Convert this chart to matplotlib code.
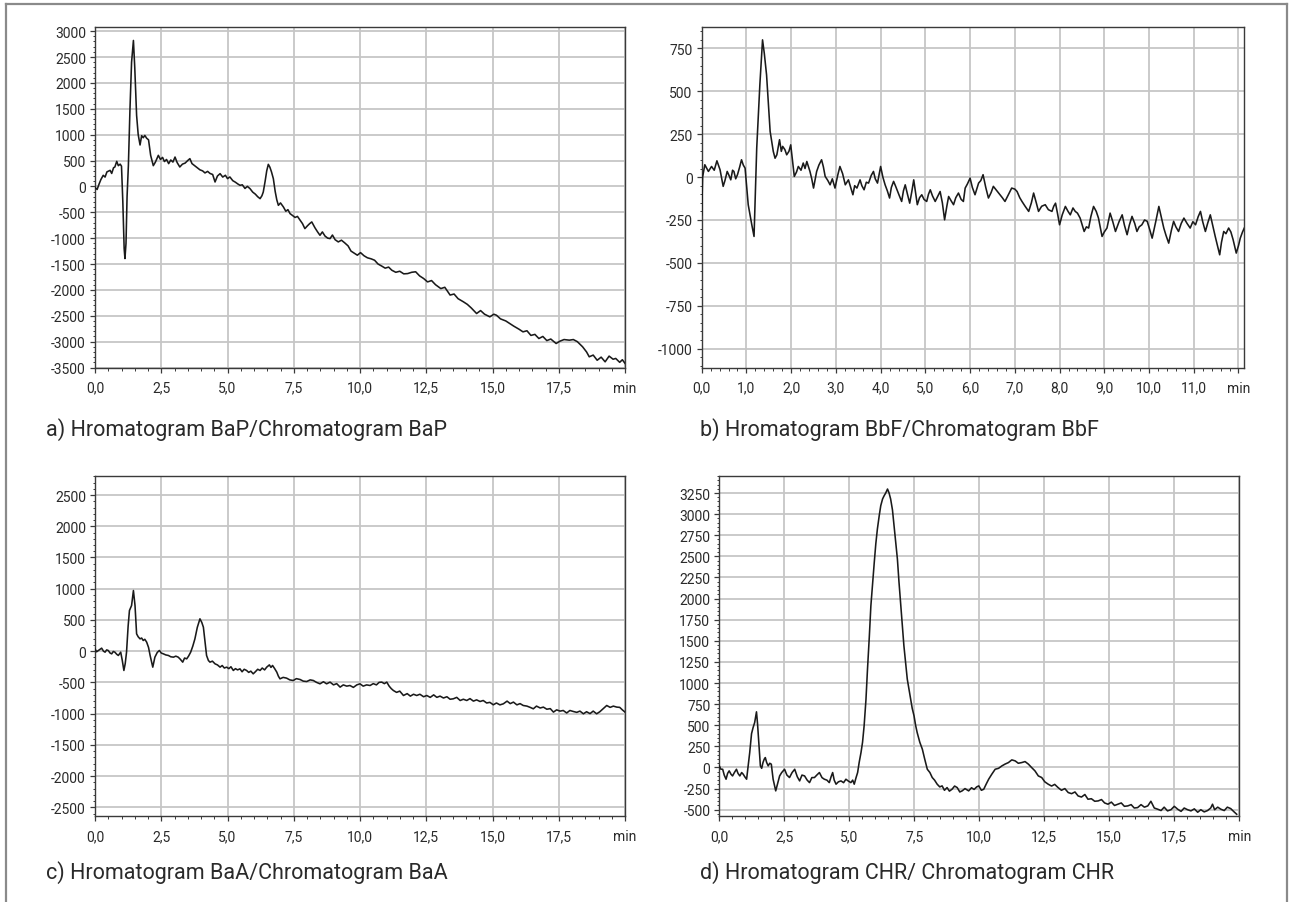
import numpy as np
import matplotlib
matplotlib.use("Agg")
import matplotlib.pyplot as plt
import matplotlib.ticker as mticker
from matplotlib.lines import Line2D

plt.rcParams['font.family'] = ['Roboto', 'DejaVu Sans']
plt.rcParams['axes.unicode_minus'] = False

# ── Traces: (time [min], signal) ────────────────────────────────────
BAP = [(0.00, -20), (0.08, -60), (0.15, 40), (0.22, 130), (0.31, 214), (0.38, 180), (0.45, 280),
       (0.57, 310), (0.63, 250), (0.70, 360), (0.75, 375), (0.82, 484), (0.88, 400), (0.95, 430),
       (1.00, 390), (1.05, -300), (1.10, -1200), (1.13, -1395), (1.17, -1100), (1.21, -200),
       (1.26, 407), (1.32, 1500), (1.38, 2400), (1.45, 2820), (1.50, 2300), (1.57, 1372),
       (1.63, 1000), (1.70, 800), (1.76, 980), (1.82, 940), (1.88, 985), (1.95, 930), (2.02, 900),
       (2.10, 600), (2.20, 400), (2.28, 470), (2.39, 600), (2.47, 520), (2.55, 560), (2.62, 480),
       (2.70, 520), (2.78, 440), (2.86, 510), (2.94, 470), (3.02, 567), (3.10, 460), (3.20, 375),
       (3.30, 430), (3.40, 450), (3.50, 500), (3.58, 536), (3.66, 440), (3.76, 400), (3.86, 360),
       (3.96, 320), (4.06, 300), (4.15, 260), (4.25, 290), (4.34, 250), (4.44, 230), (4.53, 85),
       (4.62, 200), (4.72, 246), (4.82, 180), (4.92, 215), (5.00, 150), (5.09, 182), (5.20, 110),
       (5.30, 80), (5.38, 50), (5.47, 21), (5.56, 30), (5.66, -40), (5.75, 0), (5.85, -44),
       (5.95, -110), (6.05, -150), (6.14, -200), (6.23, -237), (6.30, -180), (6.35, -108),
       (6.42, 100), (6.48, 300), (6.54, 426), (6.60, 370), (6.66, 280), (6.73, 149), (6.80, -100),
       (6.86, -260), (6.92, -366), (7.00, -320), (7.11, -398), (7.20, -480), (7.28, -450),
       (7.36, -526), (7.45, -560), (7.55, -600), (7.64, -580), (7.74, -655), (7.83, -720),
       (7.92, -816), (8.02, -760), (8.10, -720), (8.18, -687), (8.30, -800), (8.40, -880),
       (8.49, -945), (8.58, -880), (8.68, -960), (8.78, -1000), (8.87, -1009), (8.96, -940),
       (9.06, -1030), (9.18, -1073), (9.30, -1040), (9.42, -1090), (9.55, -1150), (9.66, -1250),
       (9.78, -1290), (9.90, -1330), (10.02, -1280), (10.15, -1340), (10.28, -1380),
       (10.42, -1400), (10.55, -1427), (10.68, -1500), (10.82, -1540), (10.95, -1580),
       (11.08, -1560), (11.20, -1620), (11.35, -1660), (11.50, -1640), (11.65, -1690),
       (11.80, -1685), (11.95, -1660), (12.10, -1650), (12.25, -1730), (12.40, -1780),
       (12.55, -1846), (12.70, -1820), (12.85, -1900), (13.05, -1975), (13.20, -1950),
       (13.40, -2100), (13.55, -2080), (13.70, -2170), (13.90, -2230), (14.05, -2280),
       (14.20, -2350), (14.40, -2457), (14.55, -2400), (14.70, -2470), (14.90, -2521),
       (15.05, -2470), (15.15, -2490), (15.30, -2560), (15.50, -2600), (15.65, -2650),
       (15.80, -2700), (16.00, -2760), (16.15, -2811), (16.30, -2790), (16.45, -2880),
       (16.60, -2860), (16.75, -2940), (16.90, -2900), (17.05, -2980), (17.20, -2950),
       (17.40, -3036), (17.55, -2990), (17.70, -2960), (17.90, -2972), (18.05, -2960),
       (18.20, -3000), (18.40, -3100), (18.55, -3200), (18.65, -3293), (18.80, -3260),
       (18.95, -3360), (19.10, -3300), (19.25, -3390), (19.40, -3280), (19.55, -3340),
       (19.65, -3325), (19.80, -3400), (19.90, -3350), (20.00, -3420)]

BBF = [(0.00, -220), (0.02, 0), (0.07, 72), (0.15, 33), (0.22, 62), (0.28, 40), (0.34, 95),
       (0.41, 43), (0.48, -54), (0.52, -20), (0.57, 33), (0.61, 10), (0.65, -16), (0.69, 40),
       (0.72, 33), (0.76, -10), (0.80, 14), (0.85, 60), (0.89, 101), (0.93, 70), (0.97, 52),
       (1.04, -161), (1.12, -278), (1.17, -346), (1.23, 169), (1.30, 538), (1.36, 800),
       (1.40, 720), (1.45, 596), (1.53, 266), (1.60, 150), (1.64, 110), (1.68, 130), (1.74, 218),
       (1.78, 150), (1.81, 179), (1.86, 160), (1.90, 130), (1.95, 150), (1.99, 188), (2.07, 4),
       (2.12, 30), (2.16, 62), (2.22, 40), (2.27, 82), (2.31, 50), (2.35, 91), (2.42, 33),
       (2.46, -10), (2.50, -64), (2.57, 33), (2.62, 70), (2.68, 101), (2.72, 60), (2.76, 4),
       (2.82, -20), (2.87, -45), (2.92, -10), (2.98, -64), (3.04, 10), (3.09, 62), (3.15, 20),
       (3.21, -45), (3.28, -16), (3.33, -60), (3.38, -103), (3.42, -50), (3.47, -64), (3.54, -16),
       (3.58, -50), (3.63, -74), (3.68, -30), (3.73, -35), (3.79, 10), (3.84, 33), (3.88, -10),
       (3.93, -35), (4.00, 62), (4.05, 0), (4.10, -45), (4.15, -80), (4.20, -122), (4.24, -60),
       (4.29, -25), (4.33, -50), (4.38, -84), (4.42, -110), (4.47, -142), (4.51, -80), (4.55, -45),
       (4.60, -100), (4.65, -152), (4.70, -80), (4.74, -16), (4.78, -90), (4.82, -161),
       (4.87, -120), (4.92, -103), (4.97, -130), (5.03, -142), (5.07, -100), (5.11, -74),
       (5.16, -110), (5.22, -142), (5.28, -110), (5.33, -84), (5.38, -150), (5.43, -249),
       (5.48, -170), (5.52, -113), (5.58, -140), (5.63, -161), (5.68, -120), (5.74, -93),
       (5.80, -130), (5.85, -142), (5.89, -64), (5.94, -40), (6.00, -6), (6.05, -60), (6.11, -103),
       (6.15, -70), (6.19, -35), (6.24, -20), (6.29, 14), (6.35, -60), (6.41, -122), (6.47, -90),
       (6.52, -54), (6.60, -80), (6.67, -103), (6.72, -120), (6.78, -142), (6.86, -100),
       (6.93, -64), (7.00, -70), (7.05, -84), (7.11, -120), (7.16, -142), (7.23, -170),
       (7.31, -200), (7.37, -150), (7.42, -93), (7.48, -150), (7.53, -200), (7.60, -170),
       (7.68, -161), (7.75, -190), (7.83, -200), (7.87, -170), (7.91, -152), (7.96, -220),
       (8.00, -278), (8.06, -220), (8.13, -171), (8.19, -200), (8.24, -220), (8.30, -180),
       (8.35, -200), (8.40, -210), (8.46, -239), (8.55, -317), (8.60, -290), (8.65, -297),
       (8.70, -230), (8.76, -171), (8.82, -200), (8.87, -239), (8.95, -346), (9.00, -320),
       (9.06, -297), (9.13, -210), (9.19, -260), (9.25, -317), (9.33, -260), (9.40, -220),
       (9.45, -280), (9.51, -336), (9.56, -280), (9.62, -229), (9.68, -270), (9.73, -317),
       (9.78, -290), (9.84, -278), (9.90, -250), (9.96, -258), (10.02, -310), (10.07, -356),
       (10.15, -260), (10.22, -171), (10.28, -240), (10.33, -297), (10.38, -340), (10.44, -385),
       (10.50, -310), (10.55, -258), (10.60, -290), (10.66, -317), (10.72, -270), (10.78, -239),
       (10.85, -270), (10.92, -297), (10.98, -260), (11.04, -278), (11.10, -230), (11.15, -200),
       (11.20, -260), (11.26, -317), (11.31, -270), (11.37, -220), (11.43, -290), (11.48, -346),
       (11.53, -400), (11.58, -453), (11.62, -380), (11.67, -317), (11.72, -330), (11.78, -297),
       (11.83, -320), (11.88, -365), (11.95, -443), (12.00, -400), (12.04, -356), (12.09, -320),
       (12.13, -297)]

BAA = [(0.00, 37), (0.06, -10), (0.13, 11), (0.19, 30), (0.25, 48), (0.32, 0), (0.38, -16),
       (0.44, 20), (0.50, 11), (0.57, -30), (0.63, -43), (0.69, -5), (0.75, -16), (0.82, -50),
       (0.88, -69), (0.93, -40), (0.97, -16), (1.03, -150), (1.09, -309), (1.14, -200),
       (1.19, -16), (1.25, 400), (1.30, 651), (1.38, 731), (1.45, 971), (1.51, 731), (1.57, 277),
       (1.63, 230), (1.70, 197), (1.76, 210), (1.82, 171), (1.88, 190), (1.95, 144), (2.02, 60),
       (2.08, -69), (2.18, -256), (2.26, -96), (2.35, -20), (2.43, 11), (2.50, -30), (2.58, -43),
       (2.67, -60), (2.77, -69), (2.86, -90), (2.96, -96), (3.05, -80), (3.14, -96), (3.22, -130),
       (3.31, -176), (3.38, -110), (3.46, -123), (3.53, -80), (3.61, -16), (3.69, 80), (3.77, 197),
       (3.86, 380), (3.96, 518), (4.03, 460), (4.09, 384), (4.15, 150), (4.21, -69), (4.28, -150),
       (4.34, -176), (4.43, -160), (4.53, -203), (4.62, -220), (4.72, -256), (4.80, -230),
       (4.88, -270), (4.97, -256), (5.05, -280), (5.13, -250), (5.22, -309), (5.30, -280),
       (5.38, -300), (5.47, -283), (5.55, -330), (5.63, -290), (5.72, -309), (5.80, -340),
       (5.88, -320), (5.97, -363), (6.05, -330), (6.14, -290), (6.23, -309), (6.31, -270),
       (6.40, -300), (6.48, -256), (6.58, -220), (6.64, -260), (6.70, -229), (6.78, -280),
       (6.86, -336), (6.92, -400), (6.98, -443), (7.10, -420), (7.23, -432), (7.35, -460),
       (7.48, -470), (7.60, -440), (7.74, -454), (7.86, -480), (7.99, -486), (8.12, -460),
       (8.24, -470), (8.36, -500), (8.49, -523), (8.62, -490), (8.74, -523), (8.87, -496),
       (9.00, -540), (9.12, -520), (9.25, -576), (9.37, -540), (9.50, -560), (9.62, -550),
       (9.75, -580), (9.88, -540), (10.00, -523), (10.12, -560), (10.25, -540), (10.38, -550),
       (10.50, -520), (10.62, -540), (10.72, -500), (10.82, -496), (10.92, -520), (11.01, -496),
       (11.10, -560), (11.18, -600), (11.26, -630), (11.38, -660), (11.50, -640), (11.64, -710),
       (11.78, -680), (11.90, -720), (12.02, -690), (12.14, -710), (12.26, -690), (12.40, -730),
       (12.52, -710), (12.65, -740), (12.78, -700), (12.90, -740), (13.02, -720), (13.15, -750),
       (13.28, -730), (13.40, -770), (13.52, -763), (13.65, -740), (13.78, -790), (13.90, -770),
       (14.03, -790), (14.15, -760), (14.28, -800), (14.40, -780), (14.53, -806), (14.65, -790),
       (14.78, -830), (14.90, -820), (15.03, -859), (15.15, -830), (15.28, -860), (15.41, -843),
       (15.55, -800), (15.67, -840), (15.79, -816), (15.92, -860), (16.04, -840), (16.16, -870),
       (16.30, -880), (16.42, -900), (16.54, -923), (16.66, -880), (16.80, -910), (16.92, -896),
       (17.05, -930), (17.18, -920), (17.30, -976), (17.42, -940), (17.55, -960), (17.67, -950),
       (17.80, -990), (17.92, -950), (18.05, -966), (18.18, -980), (18.30, -960), (18.43, -1003),
       (18.55, -970), (18.68, -1000), (18.80, -960), (18.93, -1003), (19.05, -970), (19.18, -920),
       (19.31, -870), (19.44, -900), (19.56, -880), (19.69, -896), (19.80, -900), (19.90, -940),
       (20.00, -976)]

CHR = [(0.00, 19), (0.06, -20), (0.13, -21), (0.19, -90), (0.26, -139), (0.32, -70), (0.38, -40),
       (0.45, -80), (0.51, -100), (0.58, -60), (0.66, -21), (0.72, -70), (0.79, -100), (0.86, -60),
       (0.92, -80), (0.98, -110), (1.05, -139), (1.11, 20), (1.17, 177), (1.24, 400), (1.30, 473),
       (1.36, 532), (1.43, 659), (1.47, 520), (1.51, 335), (1.55, 150), (1.58, 19), (1.63, -10),
       (1.68, 58), (1.73, 100), (1.77, 117), (1.82, 60), (1.88, 19), (1.94, 50), (2.00, 39),
       (2.07, -139), (2.17, -277), (2.25, -180), (2.32, -100), (2.40, -60), (2.51, -21),
       (2.60, -90), (2.70, -119), (2.80, -60), (2.90, -21), (3.00, -110), (3.09, -159), (3.18, -90),
       (3.28, -100), (3.38, -150), (3.47, -179), (3.56, -120), (3.66, -119), (3.75, -90),
       (3.85, -60), (3.95, -120), (4.04, -139), (4.14, -150), (4.23, -179), (4.30, -110),
       (4.36, -60), (4.42, -150), (4.49, -198), (4.58, -170), (4.68, -159), (4.78, -180),
       (4.87, -139), (4.96, -160), (5.06, -179), (5.13, -150), (5.19, -198), (5.26, -120),
       (5.32, -60), (5.38, 60), (5.45, 177), (5.51, 300), (5.57, 493), (5.64, 800), (5.70, 1164),
       (5.77, 1550), (5.83, 1915), (5.90, 2200), (5.96, 2428), (6.02, 2650), (6.08, 2823),
       (6.15, 2980), (6.21, 3100), (6.28, 3180), (6.34, 3218), (6.40, 3250), (6.47, 3297),
       (6.53, 3250), (6.59, 3179), (6.66, 3050), (6.72, 2863), (6.78, 2680), (6.85, 2468),
       (6.91, 2200), (6.98, 1915), (7.04, 1680), (7.10, 1441), (7.17, 1230), (7.23, 1046),
       (7.30, 920), (7.36, 809), (7.42, 700), (7.49, 611), (7.55, 500), (7.61, 414), (7.71, 300),
       (7.81, 216), (7.90, 100), (8.00, -21), (8.10, -60), (8.19, -119), (8.28, -150),
       (8.38, -198), (8.48, -230), (8.57, -218), (8.66, -270), (8.76, -238), (8.85, -280),
       (8.95, -258), (9.05, -220), (9.15, -238), (9.25, -290), (9.34, -277), (9.45, -250),
       (9.59, -277), (9.70, -240), (9.80, -260), (9.90, -230), (9.98, -218), (10.08, -270),
       (10.17, -258), (10.26, -200), (10.36, -139), (10.48, -80), (10.61, -21), (10.74, -10),
       (10.87, 19), (10.99, 40), (11.12, 58), (11.25, 90), (11.38, 78), (11.50, 50), (11.63, 58),
       (11.76, 70), (11.89, 39), (12.01, 0), (12.14, -40), (12.27, -100), (12.40, -119),
       (12.52, -170), (12.65, -198), (12.78, -220), (12.90, -200), (13.03, -238), (13.16, -270),
       (13.29, -250), (13.42, -297), (13.55, -310), (13.68, -290), (13.80, -337), (13.93, -350),
       (14.06, -320), (14.18, -376), (14.31, -370), (14.44, -400), (14.57, -396), (14.70, -380),
       (14.82, -420), (14.95, -435), (15.08, -410), (15.20, -450), (15.33, -435), (15.46, -420),
       (15.58, -460), (15.71, -455), (15.84, -440), (15.96, -480), (16.09, -475), (16.22, -440),
       (16.35, -470), (16.48, -455), (16.60, -400), (16.73, -480), (16.86, -494), (16.99, -510),
       (17.11, -470), (17.24, -514), (17.37, -500), (17.50, -460), (17.63, -494), (17.76, -520),
       (17.88, -480), (18.01, -500), (18.14, -514), (18.27, -490), (18.40, -530), (18.52, -500),
       (18.65, -526), (18.78, -510), (18.90, -480), (18.97, -435), (19.05, -500), (19.17, -470),
       (19.29, -494), (19.42, -510), (19.54, -470), (19.67, -487), (19.78, -520), (19.90, -554)]

CAPTIONS = ["a) Hromatogram BaP/Chromatogram BaP",
            "b) Hromatogram BbF/Chromatogram BbF",
            "c) Hromatogram BaA/Chromatogram BaA",
            "d) Hromatogram CHR/ Chromatogram CHR"]

# per panel: trace, x major ticks, x minor step, xlim, y major ticks, y minor step, ylim
PANELS = [
    dict(data=BAP, xt=np.arange(0, 20.01, 2.5), xm=0.5, xlim=(0, 20),
         yt=np.arange(-3500, 3001, 500), ym=100, ylim=(-3500, 3080)),
    dict(data=BBF, xt=np.arange(0, 12.01, 1.0), xm=0.2, xlim=(0, 12.13),
         yt=np.arange(-1000, 751, 250), ym=50, ylim=(-1110, 875)),
    dict(data=BAA, xt=np.arange(0, 20.01, 2.5), xm=0.5, xlim=(0, 20),
         yt=np.arange(-2500, 2501, 500), ym=100, ylim=(-2635, 2810)),
    dict(data=CHR, xt=np.arange(0, 20.01, 2.5), xm=0.5, xlim=(0, 20),
         yt=np.arange(-500, 3251, 250), ym=50, ylim=(-571, 3455)),
]

W, H = 1294, 903
# axes boxes in pixels: left, top, right, bottom
BOXES = [(95, 28, 625, 368.5), (701.7, 28, 1244.3, 368.5),
         (95, 476.7, 625, 816.7), (719.3, 476.7, 1239.3, 816.7)]
CAP_POS = [(46, 430), (700, 430), (46, 873), (700, 873)]

fig = plt.figure(figsize=(W / 100, H / 100), dpi=100)
fig.patch.set_facecolor('white')

# outer frame (open at the bottom)
frame = '#8a8a8a'
fig.add_artist(Line2D([6 / W, 6 / W], [0, 1 - 5 / H], color=frame, lw=1.6))
fig.add_artist(Line2D([1287 / W, 1287 / W], [0, 1 - 5 / H], color=frame, lw=1.6))
fig.add_artist(Line2D([6 / W, 1287 / W], [1 - 5 / H, 1 - 5 / H], color=frame, lw=1.6))

for p, box, cap, cpos in zip(PANELS, BOXES, CAPTIONS, CAP_POS):
    l, t, r, b = box
    ax = fig.add_axes([l / W, 1 - b / H, (r - l) / W, (b - t) / H])
    arr = np.array(p['data'], dtype=float)
    ax.plot(arr[:, 0], arr[:, 1], color='#1a1a1a', lw=1.15, zorder=3)

    ax.set_xlim(*p['xlim'])
    ax.set_ylim(*p['ylim'])
    ax.set_xticks(p['xt'])
    xl = [f"{v:.1f}".replace('.', ',') for v in p['xt']]
    xl[-1] = 'min'
    ax.set_xticklabels(xl)
    ax.set_yticks(p['yt'])
    ax.set_yticklabels([f"{int(v)}" for v in p['yt']])
    ax.xaxis.set_minor_locator(mticker.MultipleLocator(p['xm']))
    ax.yaxis.set_minor_locator(mticker.MultipleLocator(p['ym']))

    ax.grid(True, which='major', color='#c6c6c6', lw=1.3, zorder=1)
    ax.set_axisbelow(True)
    for s in ax.spines.values():
        s.set_color('#3a3a3a')
        s.set_linewidth(1.0)
    ax.tick_params(which='major', direction='out', length=3.5, width=0.9,
                   color='#3a3a3a', labelsize=10, labelcolor='#2a2a2a')
    ax.tick_params(which='minor', direction='out', length=1.8, width=0.7, color='#3a3a3a')
    ax.tick_params(axis='x', which='major', pad=6)
    ax.tick_params(axis='y', which='major', pad=3)

    fig.text(cpos[0] / W, 1 - cpos[1] / H, cap, ha='left', va='center',
             fontsize=15.5, color='#2a2a2a')

fig.savefig('out.png', dpi=100, facecolor='white')
